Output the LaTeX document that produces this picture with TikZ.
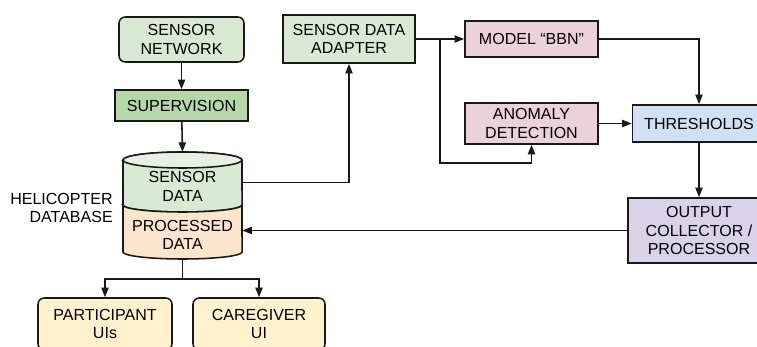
\documentclass[tikz,border=0pt]{standalone}
\usepackage{fontspec}
\setmainfont{Liberation Sans}
\usepackage{xcolor}
\usetikzlibrary{arrows.meta,positioning}
\definecolor{grnlight}{HTML}{D9EAD3}
\definecolor{grntop}{HTML}{E6F1E1}
\definecolor{grndark}{HTML}{B6D7A8}
\definecolor{pinkbox}{HTML}{EAD1DC}
\definecolor{bluebox}{HTML}{CFE2F3}
\definecolor{purplebox}{HTML}{D9D2E9}
\definecolor{orangebox}{HTML}{FCE5CD}
\definecolor{yellowbox}{HTML}{FFF2CC}
\begin{document}
\begin{tikzpicture}[x=0.025cm,y=-0.025cm,
  box/.style={draw=black!90,line width=1.1pt,font=\fontsize{11.4}{13.1}\selectfont,align=center,inner sep=0pt},
  rbox/.style={box,rounded corners=4.5pt},
  dbtxt/.style={font=\fontsize{11.4}{13.1}\selectfont,align=center,inner sep=0pt,minimum width=2.975cm},
  arr/.style={-{Triangle[length=2.4mm,width=1.8mm]},line width=1.1pt,draw=black!90},
  ln/.style={line width=1.1pt,draw=black!90},
  lbl/.style={font=\fontsize{11.4}{13.1}\selectfont,align=right,inner sep=0pt}]
\useasboundingbox (0,0) rectangle (757,347);
% left column
\node[rbox,fill=grnlight,minimum width=3.125cm,minimum height=1.125cm] (sn) at (181.5,39.5) {SENSOR\\NETWORK};
\node[box,fill=grndark,minimum width=3.325cm,minimum height=0.775cm] (sup) at (181.5,105.5) {SUPERVISION};
% database cylinder
\draw[ln,fill=grnlight] (123,160) -- (123,205)
  arc[start angle=180,end angle=360,x radius=1.4875cm,y radius=0.175cm]
  -- (242,160)
  arc[start angle=0,end angle=180,x radius=1.4875cm,y radius=0.2cm] -- cycle;
\draw[ln,fill=orangebox] (123,205) -- (123,252)
  arc[start angle=180,end angle=360,x radius=1.4875cm,y radius=0.175cm]
  -- (242,205)
  arc[start angle=0,end angle=-180,x radius=1.4875cm,y radius=0.175cm] -- cycle;
\draw[ln,fill=grntop] (182.5,160) ellipse[x radius=1.4875cm,y radius=0.2cm];
\node[dbtxt] (sd) at (182.5,186.5) {SENSOR\\DATA};
\node[dbtxt] (pd) at (182.5,235) {PROCESSED\\DATA};
\coordinate (dbtop) at (182.5,152);
\coordinate (dbbot) at (182.5,259);
\coordinate (fork) at (182.5,279);
\node[lbl,anchor=east] (heli) at (113,208) {HELICOPTER\\DATABASE};
% user interfaces
\node[rbox,fill=yellowbox,minimum width=3.35cm,minimum height=1.3cm] (pu) at (105,324) {PARTICIPANT\\UIs};
\node[rbox,fill=yellowbox,minimum width=3.3cm,minimum height=1.3cm] (cg) at (259,324) {CAREGIVER\\UI};
% processing chain
\node[box,fill=grnlight,minimum width=3.3cm,minimum height=1.2cm] (sda) at (349,39) {SENSOR DATA\\ADAPTER};
\node[box,fill=pinkbox,minimum width=3.325cm,minimum height=0.9cm] (bbn) at (531.5,39) {MODEL “BBN”};
\node[box,fill=pinkbox,minimum width=3.325cm,minimum height=1.025cm] (ad) at (531.5,123.5) {ANOMALY\\DETECTION};
\node[box,fill=bluebox,minimum width=3.325cm,minimum height=0.925cm] (thr) at (699,123.5) {THRESHOLDS};
\node[box,fill=purplebox,minimum width=3.55cm,minimum height=1.625cm] (oc) at (699,230.5) {OUTPUT\\COLLECTOR /\\PROCESSOR};
\coordinate (split) at (440,39);
\coordinate (loop) at (440,163);
% transitions
\draw[arr] (sn) -- (sup);
\draw[arr] (sup) -- (dbtop);
\draw[arr] ([yshift=0.1cm]sd.east) -| (sda.south);
\draw[arr] (sda.east) -- (bbn.west);
\draw[arr] (split) -- (loop) -| (ad.south);
\draw[arr] (bbn.east) -| (thr.north);
\draw[arr] (ad.east) -- (thr.west);
\draw[arr] (thr.south) -- (oc.north);
\draw[arr] (oc.west) -- (oc.west -| pd.east);
\draw[ln] (dbbot) -- (fork);
\draw[arr] (fork) -| (pu.north);
\draw[arr] (fork) -| (cg.north);
\end{tikzpicture}
\end{document}
